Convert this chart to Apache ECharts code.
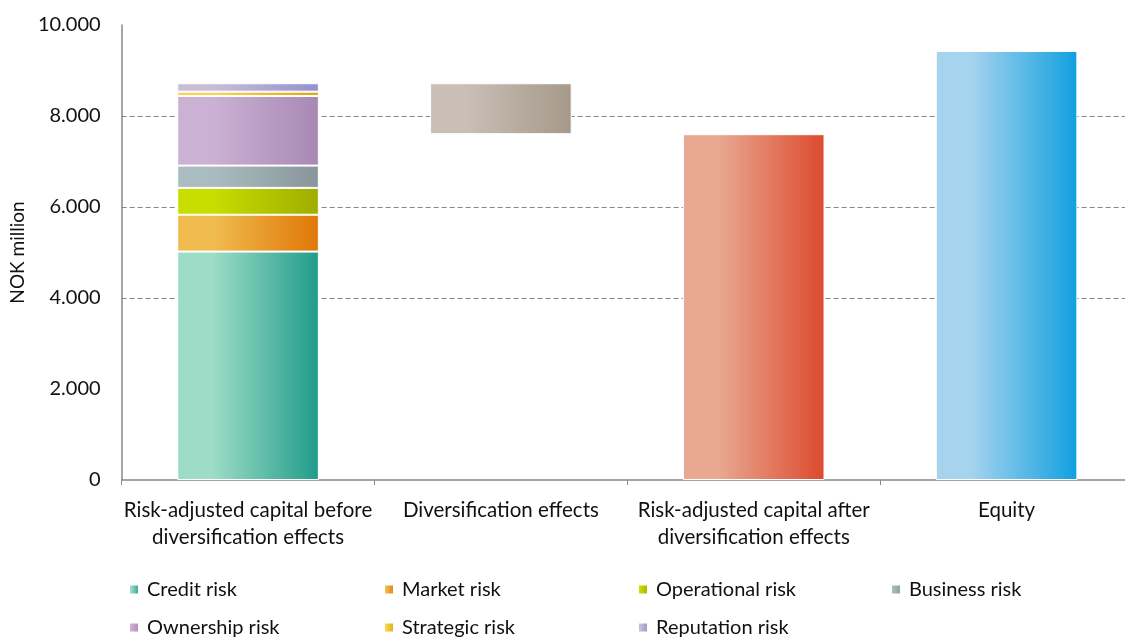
<!DOCTYPE html>
<html>
<head>
<meta charset="utf-8">
<script src="https://cdn.jsdelivr.net/npm/echarts@6/dist/echarts.min.js"></script>
<style>
html,body{margin:0;padding:0;background:#fff;overflow:hidden;width:1125px;height:637px;}
#chart{width:1140px;height:637px;}
</style>
</head>
<body>
<div id="chart"></div>
<script>
const categories = [
  'Risk-adjusted capital before\ndiversification effects',
  'Diversification effects',
  'Risk-adjusted capital after\ndiversification effects',
  'Equity'
];
const riskNames = ['Credit risk', 'Market risk', 'Operational risk', 'Business risk',
                   'Ownership risk', 'Strategic risk', 'Reputation risk'];
const riskValues = [5020, 810, 590, 490, 1530, 95, 185];
const afterDiversification = 7600;
const equity = 9430;
const yTicks = [0, 2000, 4000, 6000, 8000, 10000];

const riskColors = [
  ['#9ddcc7', '#209c8a'],
  ['#f0bc4e', '#df7707'],
  ['#c8dd00', '#9ead00'],
  ['#aabcc0', '#88959b'],
  ['#cbb1d3', '#a888b3'],
  ['#fad450', '#dca70c'],
  ['#c9bdd6', '#9291cf']
];
const divColors = ['#c9bfb5', '#a6998b'];
const afterColors = ['#e9a891', '#dc4a2e'];
const equityColors = ['#a6d3ee', '#10a0df'];

function grad(c) {
  return new echarts.graphic.LinearGradient(0, 0, 1, 0, [
    { offset: 0, color: c[0] },
    { offset: 0.25, color: c[0] },
    { offset: 1, color: c[1] }
  ]);
}

const totalBefore = riskValues.reduce((a, b) => a + b, 0);
const FONT = 'Lato';

const series = [];
riskNames.forEach((n, i) => {
  series.push({
    name: n, type: 'bar', stack: 'a', barWidth: '56%',
    data: [riskValues[i], '-', '-', '-'],
    itemStyle: { color: grad(riskColors[i]), borderColor: '#fff', borderWidth: 1 }
  });
});
series.push({
  name: 'base', type: 'bar', stack: 'a', silent: true,
  data: ['-', afterDiversification, '-', '-'],
  itemStyle: { color: 'rgba(0,0,0,0)' }
});
series.push({
  name: 'Diversification effects', type: 'bar', stack: 'a',
  data: ['-', totalBefore - afterDiversification, '-', '-'],
  itemStyle: { color: grad(divColors), borderColor: '#fff', borderWidth: 1 }
});
series.push({
  name: 'After', type: 'bar', stack: 'a',
  data: ['-', '-', afterDiversification, '-'],
  itemStyle: { color: grad(afterColors), borderColor: '#fff', borderWidth: 1 }
});
series.push({
  name: 'Equity', type: 'bar', stack: 'a',
  data: ['-', '-', '-', equity],
  itemStyle: { color: grad(equityColors), borderColor: '#fff', borderWidth: 1 }
});

const legendPos = [
  [128, 579], [383, 579], [637, 579], [890, 579],
  [128, 617], [383, 617], [637, 617]
];
const legends = riskNames.map((n, i) => ({
  data: [n], left: legendPos[i][0], top: legendPos[i][1],
  icon: 'rect', itemWidth: 10, itemHeight: 10, padding: 0,
  textStyle: { fontFamily: FONT, fontSize: 20, color: '#111', padding: [0, 0, 0, 3], lineHeight: 21 }
}));

const gridColors = yTicks.map(v => (v === 4000 || v === 6000 || v === 8000) ? '#888' : 'rgba(0,0,0,0)');

const chart = echarts.init(document.getElementById('chart'));
chart.setOption({
  animation: false,
  backgroundColor: '#fff',
  grid: { left: 121, top: 25, right: 7, bottom: 157, containLabel: false },
  legend: legends,
  xAxis: {
    type: 'category', data: categories,
    axisLine: { lineStyle: { color: '#888', width: 1.5 } },
    axisTick: { show: true, length: 5, lineStyle: { color: '#888' } },
    axisLabel: { interval: 0, fontFamily: FONT, fontSize: 20.5, color: '#111', lineHeight: 27, margin: 17 }
  },
  yAxis: {
    type: 'value', min: 0, max: 10000, interval: 2000,
    name: 'NOK million', nameLocation: 'middle', nameRotate: 90, nameGap: 91,
    nameTextStyle: { fontFamily: FONT, fontSize: 19, color: '#111' },
    axisLine: { show: true, lineStyle: { color: '#888', width: 1.5 } },
    axisTick: { show: false },
    axisLabel: {
      fontFamily: FONT, fontSize: 20, color: '#111', margin: 21,
      formatter: v => v === 0 ? '0' : (v / 1000).toFixed(0) + '.000'
    },
    splitLine: { show: true, lineStyle: { color: gridColors, type: [5, 3], width: 1 } }
  },
  series: series
});
</script>
</body>
</html>
